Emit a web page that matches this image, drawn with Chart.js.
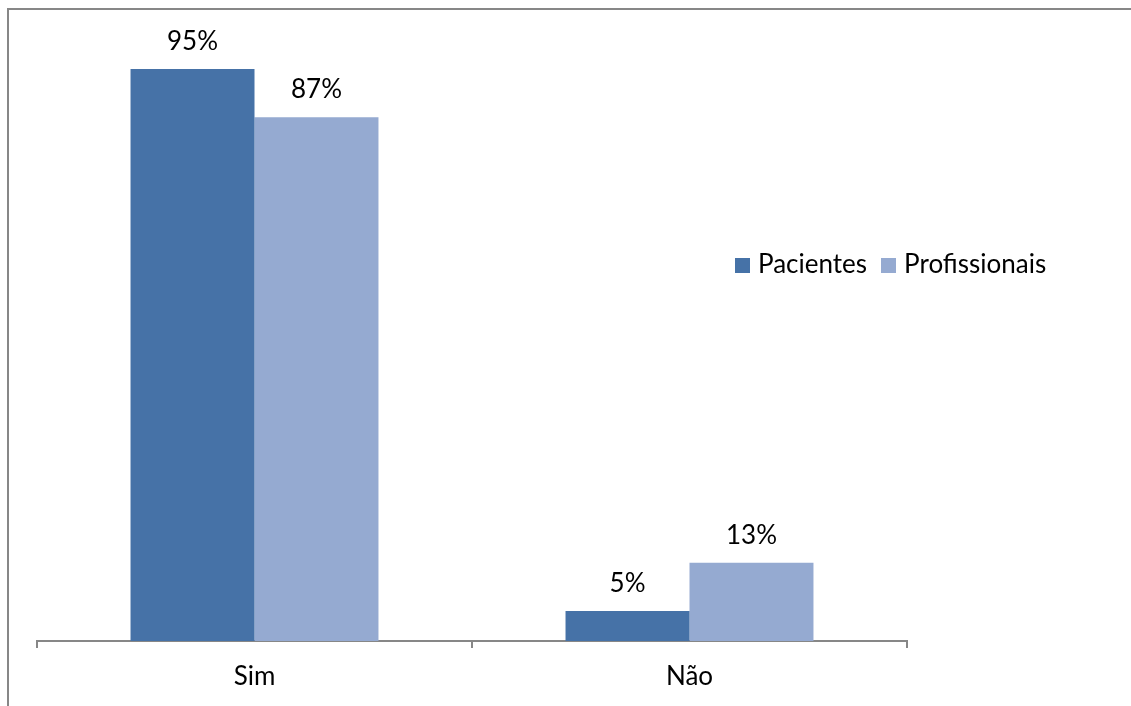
<!DOCTYPE html>
<html>
<head>
<meta charset="utf-8">
<script src="https://cdn.jsdelivr.net/npm/chart.js@4"></script>
<style>
  html, body { margin: 0; padding: 0; background: #fff; }
  #wrap { position: relative; width: 1131px; height: 706px; overflow: hidden; }
  #frame { position: absolute; left: 7px; top: 8px; width: 1200px; height: 800px;
           border-top: 2px solid #878787; border-left: 2px solid #878787; }
  #myChart { position: absolute; left: 0; top: 0; }
  #legend { position: absolute; left: 735px; top: 247px; font-family: Lato, sans-serif;
            font-size: 26px; color: #000; white-space: nowrap; }
  #legend span.item { margin-right: 14px; }
  #legend span.box { display: inline-block; width: 15px; height: 15px; margin-right: 8px; }
</style>
</head>
<body>
<div id="wrap">
  <div id="frame"></div>
  <canvas id="myChart" width="1131" height="706"></canvas>
  <div id="legend"></div>
</div>
<script>
var categories = ["Sim", "Não"];
var pacientes = [95, 5];
var profissionais = [87, 13];
var seriesNames = ["Pacientes", "Profissionais"];
var colors = ["#4672A7", "#95AAD1"];

var labelFont = "26px Lato, sans-serif";

// draws the "95%" style labels above each bar
var valueLabels = {
  id: 'valueLabels',
  afterDatasetsDraw: function(chart) {
    var ctx = chart.ctx;
    ctx.save();
    ctx.font = labelFont;
    ctx.fillStyle = '#000';
    ctx.textAlign = 'center';
    ctx.textBaseline = 'alphabetic';
    chart.data.datasets.forEach(function(ds, i) {
      var meta = chart.getDatasetMeta(i);
      meta.data.forEach(function(bar, n) {
        ctx.fillText(ds.data[n] + '%', bar.x, bar.y - 19);
      });
    });
    ctx.restore();
  }
};

var ctx = document.getElementById('myChart').getContext('2d');
var myChart = new Chart(ctx, {
  type: 'bar',
  data: {
    labels: categories,
    datasets: [
      { label: seriesNames[0], data: pacientes, backgroundColor: colors[0] },
      { label: seriesNames[1], data: profissionais, backgroundColor: colors[1] }
    ]
  },
  options: {
    responsive: false,
    animation: false,
    events: [],
    categoryPercentage: 0.57,
    barPercentage: 1,
    layout: { padding: { left: 37, right: 224, top: 39, bottom: 0 } },
    plugins: {
      legend: { display: false },
      tooltip: { enabled: false }
    },
    scales: {
      y: { display: false, min: 0, max: 100 },
      x: {
        afterFit: function(scale) { scale.height = 65; },
        border: { display: true, color: '#878787', width: 2 },
        grid: { offset: true, drawOnChartArea: false, drawTicks: true, tickLength: 7,
                color: '#878787', lineWidth: 2 },
        ticks: { color: '#000', padding: 13, font: { family: 'Lato, sans-serif', size: 26 } }
      }
    }
  },
  plugins: [valueLabels]
});

// legend in one row to the right, like the original
var legend = document.getElementById('legend');
myChart.data.datasets.forEach(function(ds) {
  var item = document.createElement('span');
  item.className = 'item';
  var box = document.createElement('span');
  box.className = 'box';
  box.style.background = ds.backgroundColor;
  item.appendChild(box);
  item.appendChild(document.createTextNode(ds.label));
  legend.appendChild(item);
});
</script>
</body>
</html>
